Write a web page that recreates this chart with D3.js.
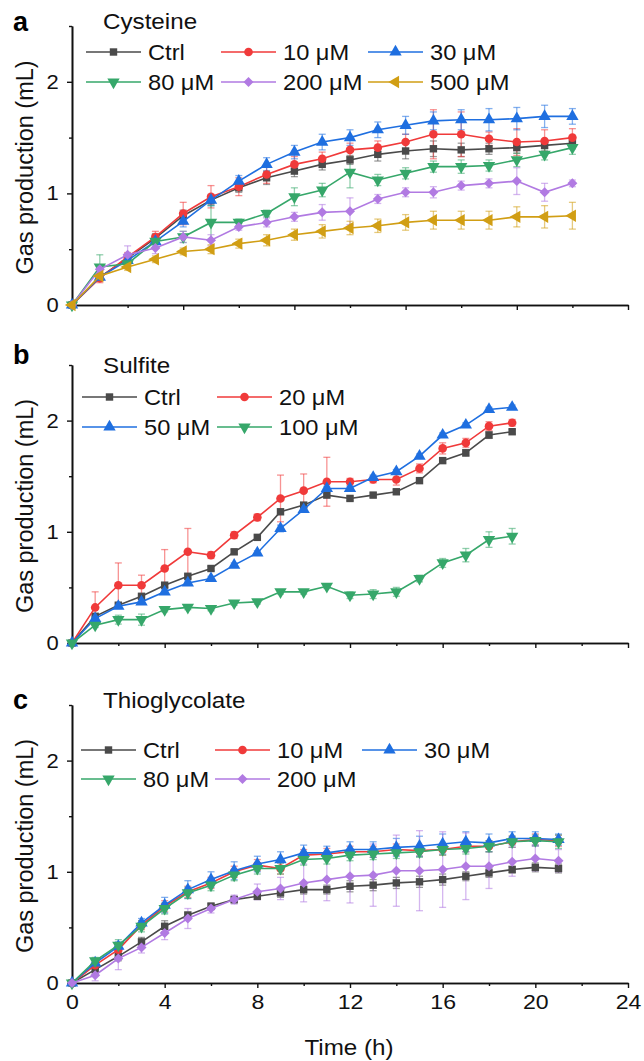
<!DOCTYPE html>
<html>
<head>
<meta charset="utf-8">
<script src="https://cdn.jsdelivr.net/npm/d3@7"></script>
<style>
  body { margin: 0; background: #fff; }
  svg { font-family: "Liberation Sans", Arial, sans-serif; }
</style>
</head>
<body>
<svg id="chart" width="644" height="1061"></svg>
<script>
// --- panel a: cysteine ---
const timeA = [0,1,2,3,4,5,6,7,8,9,10,11,12,13,14,15,16,17,18];
const cysCtrl = [0,0.25,0.42,0.60,0.80,0.94,1.05,1.14,1.20,1.26,1.30,1.35,1.38,1.40,1.39,1.40,1.41,1.43,1.45];
const cysCtrlErr = [0,0.03,0.03,0.04,0.05,0.04,0.04,0.06,0.05,0.05,0.04,0.06,0.07,0.07,0.06,0.05,0.05,0.05,0.05];
const cys10 = [0,0.24,0.43,0.61,0.82,0.97,1.06,1.17,1.26,1.31,1.39,1.41,1.46,1.53,1.53,1.49,1.46,1.47,1.50];
const cys10Err = [0,0.04,0.04,0.05,0.10,0.10,0.08,0.08,0.07,0.06,0.06,0.06,0.07,0.22,0.20,0.06,0.12,0.10,0.08];
const cys30 = [0,0.25,0.40,0.57,0.75,0.94,1.11,1.26,1.37,1.46,1.50,1.57,1.61,1.65,1.66,1.66,1.67,1.69,1.69];
const cys30Err = [0,0.03,0.04,0.04,0.05,0.05,0.05,0.06,0.06,0.07,0.07,0.07,0.08,0.08,0.09,0.10,0.10,0.10,0.07];
const cys80 = [0,0.34,0.37,0.57,0.61,0.74,0.74,0.82,0.97,1.03,1.19,1.12,1.18,1.24,1.24,1.25,1.30,1.35,1.41];
const cys80Err = [0,0.11,0.04,0.06,0.05,0.15,0.03,0.03,0.08,0.06,0.14,0.05,0.05,0.05,0.06,0.05,0.06,0.05,0.06];
const cys200 = [0,0.32,0.45,0.51,0.61,0.58,0.70,0.74,0.79,0.83,0.84,0.95,1.01,1.01,1.07,1.09,1.11,1.01,1.09];
const cys200Err = [0,0.04,0.08,0.05,0.05,0.05,0.03,0.04,0.04,0.07,0.12,0.04,0.04,0.05,0.04,0.04,0.12,0.08,0.03];
const cys500 = [0,0.26,0.34,0.41,0.48,0.50,0.55,0.58,0.63,0.66,0.69,0.71,0.74,0.76,0.76,0.76,0.79,0.79,0.80];
const cys500Err = [0,0.03,0.03,0.03,0.03,0.04,0.04,0.05,0.05,0.06,0.06,0.06,0.07,0.08,0.08,0.08,0.09,0.10,0.12];

// --- panel b: sulfite ---
const timeB = [0,1,2,3,4,5,6,7,8,9,10,11,12,13,14,15,16,17,18,19];
const sulCtrl = [0,0.24,0.34,0.42,0.52,0.60,0.67,0.82,0.95,1.18,1.24,1.33,1.30,1.33,1.36,1.46,1.64,1.71,1.87,1.90];
const sulCtrlErr = [0,0.02,0.02,0.02,0.02,0.02,0.02,0.02,0.02,0.02,0.02,0.02,0.02,0.02,0.02,0.02,0.02,0.03,0.03,0.02];
const sul20 = [0,0.32,0.52,0.52,0.67,0.82,0.79,0.97,1.13,1.30,1.37,1.45,1.45,1.47,1.47,1.57,1.75,1.80,1.95,1.98];
const sul20Err = [0,0.14,0.20,0.09,0.17,0.21,0.03,0.03,0.03,0.21,0.15,0.22,0.03,0.03,0.05,0.04,0.05,0.04,0.04,0.03];
const sul50 = [0,0.22,0.33,0.37,0.46,0.54,0.58,0.70,0.81,1.03,1.20,1.39,1.39,1.49,1.54,1.68,1.87,1.96,2.10,2.12];
const sul50Err = [0,0.02,0.02,0.02,0.02,0.02,0.02,0.02,0.02,0.03,0.02,0.02,0.02,0.02,0.02,0.02,0.02,0.02,0.02,0.02];
const sul100 = [0,0.16,0.21,0.21,0.30,0.32,0.31,0.36,0.37,0.46,0.46,0.51,0.43,0.44,0.46,0.58,0.72,0.79,0.93,0.96];
const sul100Err = [0,0.02,0.04,0.05,0.02,0.02,0.02,0.02,0.02,0.02,0.02,0.02,0.03,0.04,0.04,0.03,0.04,0.06,0.07,0.07];

// --- panel c: thioglycolate ---
const timeC = [0,1,2,3,4,5,6,7,8,9,10,11,12,13,14,15,16,17,18,19,20,21];
const thiCtrl = [0,0.12,0.24,0.37,0.51,0.61,0.69,0.75,0.78,0.81,0.84,0.84,0.87,0.88,0.90,0.91,0.93,0.96,0.99,1.02,1.04,1.03];
const thiCtrlErr = [0,0.02,0.04,0.04,0.05,0.03,0.03,0.03,0.03,0.04,0.04,0.04,0.05,0.05,0.05,0.05,0.05,0.04,0.04,0.03,0.04,0.04];
const thi10 = [0,0.16,0.30,0.52,0.69,0.82,0.90,1.00,1.06,1.03,1.15,1.16,1.18,1.18,1.20,1.19,1.20,1.23,1.23,1.27,1.29,1.28];
const thi10Err = [0,0.03,0.04,0.04,0.05,0.05,0.05,0.05,0.05,0.05,0.05,0.05,0.05,0.05,0.05,0.05,0.05,0.05,0.05,0.05,0.05,0.05];
const thi30 = [0,0.18,0.33,0.54,0.70,0.84,0.93,1.01,1.07,1.11,1.17,1.17,1.20,1.20,1.22,1.23,1.25,1.27,1.26,1.30,1.30,1.29];
const thi30Err = [0,0.03,0.04,0.04,0.07,0.08,0.07,0.08,0.07,0.07,0.07,0.06,0.07,0.07,0.08,0.09,0.09,0.09,0.08,0.06,0.06,0.05];
const thi80 = [0,0.20,0.34,0.51,0.67,0.81,0.88,0.97,1.03,1.03,1.11,1.12,1.15,1.16,1.17,1.18,1.20,1.21,1.23,1.27,1.28,1.27];
const thi80Err = [0,0.03,0.05,0.05,0.05,0.05,0.05,0.05,0.05,0.05,0.05,0.05,0.05,0.05,0.05,0.05,0.05,0.05,0.05,0.05,0.05,0.06];
const thi200 = [0,0.07,0.22,0.32,0.45,0.58,0.67,0.75,0.82,0.85,0.90,0.93,0.96,0.97,1.01,1.01,1.02,1.05,1.05,1.09,1.12,1.10];
const thi200Err = [0,0.05,0.10,0.05,0.06,0.09,0.04,0.04,0.07,0.10,0.17,0.19,0.24,0.28,0.32,0.36,0.34,0.30,0.20,0.13,0.11,0.10];

// styles for each condition
const C_CTRL = "#4a4a4a", C_RED = "#f03a3a", C_BLUE = "#1f6fe0",
      C_GREEN = "#36a76a", C_PURPLE = "#b17ae2", C_GOLD = "#d19e14";

const svg = d3.select("#chart");
const FONT = "Liberation Sans, Arial, sans-serif";
const SX = 1.1; // the source figure's text is a bit wider than Arial

function markerPath(shape) {
  const sym = {
    square: d3.symbolSquare, circle: d3.symbolCircle,
    up: d3.symbolTriangle, down: d3.symbolTriangle,
    diamond: d3.symbolSquare, left: d3.symbolTriangle
  }[shape];
  const size = { square: 55, circle: 58, up: 66, down: 66, diamond: 50, left: 66 }[shape];
  return d3.symbol().type(sym).size(size)();
}
function markerRotate(shape) {
  return { down: 180, diamond: 45, left: -90 }[shape] || 0;
}

// horizontal text, slightly widened
function label(parent, x, y, txt, size, anchor) {
  return parent.append("text")
    .attr("transform", `translate(${x},${y}) scale(${SX},1)`)
    .attr("text-anchor", anchor || "start")
    .attr("font-size", size).attr("font-family", FONT).attr("fill", "#111")
    .text(txt);
}

function drawPanel(p) {
  const x = d3.scaleLinear().domain([0, p.xMax]).range([72, 628]);
  const y = d3.scaleLinear().domain([0, 2.5]).range([p.bottom, p.top]);
  const g = svg.append("g");

  // axes (major ticks labelled, minor ticks bare)
  const yMajor = d3.axisLeft(y).tickValues([0, 1, 2]).tickSize(5).tickSizeOuter(0).tickPadding(7).tickFormat(d3.format("d"));
  const yMinor = d3.axisLeft(y).tickValues([0.5, 1.5, 2.5]).tickSize(3).tickSizeOuter(0).tickFormat("");
  const xMajor = d3.axisBottom(x).tickValues(p.xMajor).tickSize(5).tickSizeOuter(0).tickPadding(6)
    .tickFormat(p.xLabels ? d3.format("d") : "");
  const xMinor = d3.axisBottom(x).tickValues(p.xMinor).tickSize(3).tickSizeOuter(0).tickFormat("");

  [[yMajor, `translate(72,0)`, 20], [yMinor, `translate(72,0)`, 20],
   [xMajor, `translate(0,${p.bottom})`, 21], [xMinor, `translate(0,${p.bottom})`, 21]].forEach(([ax, tr, fs]) => {
    const a = g.append("g").attr("transform", tr).call(ax);
    a.selectAll("path.domain").attr("stroke", "#111").attr("stroke-width", 1.6);
    a.selectAll(".tick line").attr("stroke", "#111").attr("stroke-width", 1.4);
    a.selectAll("text").attr("font-family", FONT).attr("font-size", fs).attr("fill", "#111")
      .attr("transform", `scale(${SX},1)`);
  });

  // y label
  g.append("text")
    .attr("transform", `translate(33,${(p.top + p.bottom) / 2 + 2}) rotate(-90)`)
    .attr("text-anchor", "middle")
    .attr("font-size", 23.5).attr("font-family", FONT).attr("fill", "#111")
    .text("Gas production (mL)");

  // panel letter + title
  g.append("text").attr("x", 13).attr("y", p.letterY)
    .attr("font-size", 27).attr("font-weight", "bold").attr("font-family", FONT)
    .text(p.letter);
  label(g, 103, p.titleY, p.title, 22);

  // error bars
  p.series.forEach(s => {
    const eb = g.append("g").attr("stroke", s.color).attr("stroke-opacity", 0.55).attr("stroke-width", 1.3);
    p.time.forEach((t, i) => {
      const e = s.err[i];
      if (!e) return;
      const cx = x(t), y1 = y(s.values[i] - e), y2 = y(s.values[i] + e);
      eb.append("line").attr("x1", cx).attr("x2", cx).attr("y1", y1).attr("y2", y2);
      eb.append("line").attr("x1", cx - 3.5).attr("x2", cx + 3.5).attr("y1", y1).attr("y2", y1);
      eb.append("line").attr("x1", cx - 3.5).attr("x2", cx + 3.5).attr("y1", y2).attr("y2", y2);
    });
  });

  // lines + markers
  const line = d3.line().x((d, i) => x(p.time[i])).y(d => y(d));
  p.series.forEach(s => {
    g.append("path").datum(s.values)
      .attr("fill", "none").attr("stroke", s.color).attr("stroke-width", 1.6)
      .attr("d", line);
    g.append("g").selectAll("path").data(s.values).join("path")
      .attr("d", markerPath(s.shape))
      .attr("transform", (d, i) => `translate(${x(p.time[i])},${y(d)}) rotate(${markerRotate(s.shape)})`)
      .attr("fill", s.color);
  });

  // legend
  p.series.forEach((s, i) => {
    const col = i % p.legendCols, row = Math.floor(i / p.legendCols);
    const lx = p.legendX[col], ly = p.legendY[row];
    const lg = g.append("g");
    lg.append("line").attr("x1", lx).attr("x2", lx + 55).attr("y1", ly).attr("y2", ly)
      .attr("stroke", s.color).attr("stroke-width", 1.6);
    lg.append("path").attr("d", markerPath(s.shape))
      .attr("transform", `translate(${lx + 27.5},${ly}) rotate(${markerRotate(s.shape)})`)
      .attr("fill", s.color);
    label(lg, lx + 62, ly + 7.5, s.name, 21.5);
  });
}

drawPanel({
  letter: "a", letterY: 31, title: "Cysteine", titleY: 29,
  top: 26, bottom: 305, xMax: 20,
  xMajor: [0, 4, 8, 12, 16, 20], xMinor: [2, 6, 10, 14, 18], xLabels: false,
  time: timeA, legendCols: 3, legendX: [86, 221, 368], legendY: [52, 82],
  series: [
    { name: "Ctrl", values: cysCtrl, err: cysCtrlErr, color: C_CTRL, shape: "square" },
    { name: "10 μM", values: cys10, err: cys10Err, color: C_RED, shape: "circle" },
    { name: "30 μM", values: cys30, err: cys30Err, color: C_BLUE, shape: "up" },
    { name: "80 μM", values: cys80, err: cys80Err, color: C_GREEN, shape: "down" },
    { name: "200 μM", values: cys200, err: cys200Err, color: C_PURPLE, shape: "diamond" },
    { name: "500 μM", values: cys500, err: cys500Err, color: C_GOLD, shape: "left" }
  ]
});

drawPanel({
  letter: "b", letterY: 364, title: "Sulfite", titleY: 373,
  top: 365, bottom: 643, xMax: 24,
  xMajor: [0, 4, 8, 12, 16, 20, 24], xMinor: [2, 6, 10, 14, 18, 22], xLabels: false,
  time: timeB, legendCols: 2, legendX: [82, 217], legendY: [397, 427],
  series: [
    { name: "Ctrl", values: sulCtrl, err: sulCtrlErr, color: C_CTRL, shape: "square" },
    { name: "20 μM", values: sul20, err: sul20Err, color: C_RED, shape: "circle" },
    { name: "50 μM", values: sul50, err: sul50Err, color: C_BLUE, shape: "up" },
    { name: "100 μM", values: sul100, err: sul100Err, color: C_GREEN, shape: "down" }
  ]
});

drawPanel({
  letter: "c", letterY: 709, title: "Thioglycolate", titleY: 708,
  top: 705, bottom: 983, xMax: 24,
  xMajor: [0, 4, 8, 12, 16, 20, 24], xMinor: [2, 6, 10, 14, 18, 22], xLabels: true,
  time: timeC, legendCols: 3, legendX: [81, 215, 362], legendY: [750, 779],
  series: [
    { name: "Ctrl", values: thiCtrl, err: thiCtrlErr, color: C_CTRL, shape: "square" },
    { name: "10 μM", values: thi10, err: thi10Err, color: C_RED, shape: "circle" },
    { name: "30 μM", values: thi30, err: thi30Err, color: C_BLUE, shape: "up" },
    { name: "80 μM", values: thi80, err: thi80Err, color: C_GREEN, shape: "down" },
    { name: "200 μM", values: thi200, err: thi200Err, color: C_PURPLE, shape: "diamond" }
  ]
});

// x axis title
label(svg, 349, 1055, "Time (h)", 22, "middle");
</script>
</body>
</html>
